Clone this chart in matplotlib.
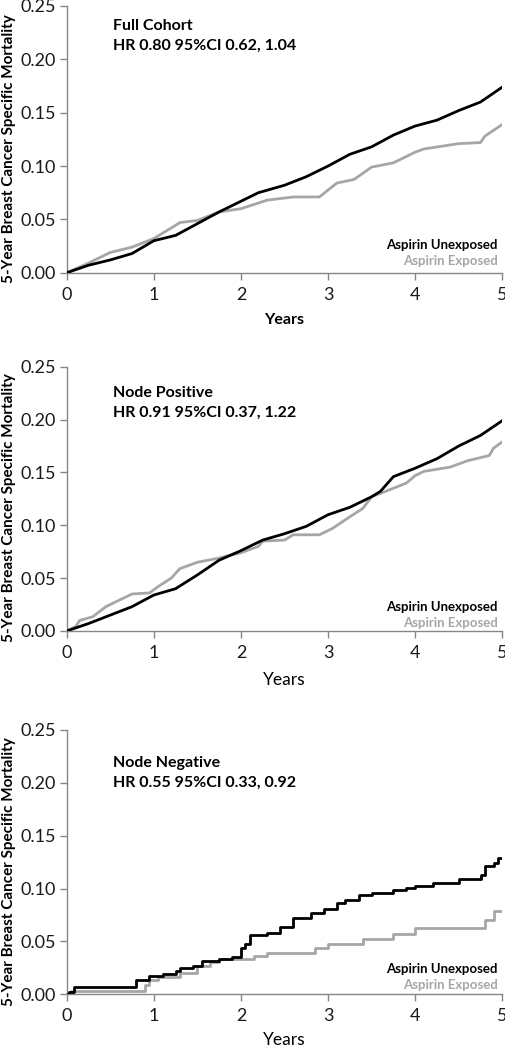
import matplotlib
matplotlib.use("Agg")
import matplotlib.pyplot as plt

plt.rcParams['font.family'] = ['Lato', 'DejaVu Sans']

# Full cohort
full_unexp_t = [0, 0.25, 0.5, 0.75, 1.0, 1.25, 1.5, 1.75, 2.0, 2.2, 2.5, 2.75, 3.0, 3.25, 3.5, 3.75, 4.0, 4.25, 4.5, 4.75, 5.0]
full_unexp_y = [0, 0.007, 0.012, 0.018, 0.030, 0.035, 0.046, 0.057, 0.067, 0.075, 0.082, 0.090, 0.100, 0.111, 0.118, 0.129, 0.1375, 0.143, 0.152, 0.160, 0.174]
full_exp_t = [0, 0.25, 0.5, 0.75, 1.0, 1.3, 1.5, 1.75, 2.0, 2.3, 2.6, 2.9, 3.1, 3.3, 3.5, 3.75, 4.0, 4.1, 4.5, 4.75, 4.8, 5.0]
full_exp_y = [0, 0.009, 0.019, 0.024, 0.032, 0.047, 0.049, 0.057, 0.060, 0.068, 0.071, 0.071, 0.084, 0.0875, 0.099, 0.103, 0.113, 0.116, 0.121, 0.122, 0.128, 0.139]

# Node positive
pos_unexp_t = [0, 0.25, 0.5, 0.75, 1.0, 1.25, 1.5, 1.75, 2.0, 2.25, 2.5, 2.75, 3.0, 3.25, 3.5, 3.6, 3.75, 4.0, 4.25, 4.5, 4.75, 5.0]
pos_unexp_y = [0, 0.007, 0.015, 0.023, 0.034, 0.040, 0.053, 0.067, 0.076, 0.086, 0.092, 0.099, 0.110, 0.117, 0.127, 0.132, 0.146, 0.154, 0.163, 0.175, 0.185, 0.199]
pos_exp_t = [0, 0.1, 0.15, 0.3, 0.45, 0.6, 0.75, 0.95, 1.05, 1.2, 1.3, 1.5, 1.75, 2.0, 2.2, 2.25, 2.5, 2.6, 2.9, 3.05, 3.25, 3.4, 3.5, 3.75, 3.9, 4.0, 4.1, 4.4, 4.6, 4.85, 4.9, 5.0]
pos_exp_y = [0, 0.004, 0.010, 0.0135, 0.023, 0.029, 0.035, 0.036, 0.042, 0.050, 0.059, 0.065, 0.069, 0.074, 0.080, 0.085, 0.086, 0.091, 0.091, 0.097, 0.108, 0.116, 0.127, 0.135, 0.140, 0.147, 0.151, 0.155, 0.161, 0.166, 0.173, 0.179]

# Node negative
neg_unexp_t = [0, 0.03, 0.08, 0.73, 0.8, 0.95, 1.1, 1.25, 1.3, 1.45, 1.55, 1.75, 1.9, 2.0, 2.05, 2.1, 2.3, 2.45, 2.6, 2.8, 2.95, 3.1, 3.2, 3.35, 3.5, 3.75, 3.9, 4.0, 4.2, 4.5, 4.75, 4.8, 4.9, 4.95, 5.0]
neg_unexp_y = [0, 0.0025, 0.007, 0.007, 0.014, 0.017, 0.019, 0.022, 0.025, 0.027, 0.032, 0.033, 0.0355, 0.044, 0.048, 0.056, 0.058, 0.064, 0.0725, 0.0765, 0.081, 0.086, 0.089, 0.094, 0.096, 0.0985, 0.101, 0.1025, 0.1055, 0.109, 0.113, 0.121, 0.124, 0.1285, 0.1285]
neg_exp_t = [0, 0.03, 0.05, 0.85, 0.9, 0.95, 1.05, 1.3, 1.5, 1.65, 1.75, 2.15, 2.3, 2.85, 3.0, 3.4, 3.75, 4.0, 4.8, 4.9, 5.0]
neg_exp_y = [0, 0.0025, 0.003, 0.003, 0.009, 0.0135, 0.0165, 0.020, 0.027, 0.031, 0.033, 0.0365, 0.039, 0.0435, 0.0475, 0.0525, 0.0575, 0.063, 0.070, 0.079, 0.079]

titles = ["Full Cohort", "Node Positive", "Node Negative"]
hr_texts = ["HR 0.80 95%CI 0.62, 1.04", "HR 0.91 95%CI 0.37, 1.22", "HR 0.55 95%CI 0.33, 0.92"]
y_ticks = [0.00, 0.05, 0.10, 0.15, 0.20, 0.25]
x_ticks = [0, 1, 2, 3, 4, 5]

BLACK = "#000000"
GRAY = "#a6a6a6"
AXIS = "#868686"

fig = plt.figure(figsize=(5.06, 10.49), dpi=100)

# axes boxes in figure fractions (left, bottom, width, height)
boxes = [
    (0.1318, 0.7400, 0.8609, 0.2543),
    (0.1318, 0.3985, 0.8609, 0.2519),
    (0.1318, 0.0521, 0.8609, 0.2520),
]
title_y = [(0.231, 0.2125), (0.225, 0.206), (0.219, 0.200)]
legend_y = [(0.026, 0.011), (0.023, 0.008), (0.0236, 0.0085)]
# the first two panels have many tiny steps, drawn as a line; the last one shows clear steps
draw_style = ['default', 'default', 'steps-post']

series = [
    (full_unexp_t, full_unexp_y, full_exp_t, full_exp_y),
    (pos_unexp_t, pos_unexp_y, pos_exp_t, pos_exp_y),
    (neg_unexp_t, neg_unexp_y, neg_exp_t, neg_exp_y),
]


def draw_panel(ax, i):
    ut, uy, et, ey = series[i]
    ax.plot(et, ey, drawstyle=draw_style[i], color=GRAY, lw=2.0, zorder=2)
    ax.plot(ut, uy, drawstyle=draw_style[i], color=BLACK, lw=2.0, zorder=3)

    ax.set_xlim(0, 5)
    ax.set_ylim(0, 0.25)
    ax.set_xticks(x_ticks)
    ax.set_yticks(y_ticks)
    ax.set_yticklabels([f"{v:.2f}" for v in y_ticks])
    ax.tick_params(axis='both', colors=AXIS, labelcolor="#1a1a1a", labelsize=13,
                   length=5, width=1)
    ax.tick_params(axis='x', pad=5)
    ax.tick_params(axis='y', pad=3)
    for side in ['top', 'right']:
        ax.spines[side].set_visible(False)
    for side in ['left', 'bottom']:
        ax.spines[side].set_color(AXIS)
        ax.spines[side].set_linewidth(1)

    ax.text(0.535, title_y[i][0], titles[i], fontsize=11.5, fontweight='bold', va='center')
    ax.text(0.535, title_y[i][1], hr_texts[i], fontsize=11.5, fontweight='bold', va='center')

    ax.text(4.95, legend_y[i][0], "Aspirin Unexposed", color=BLACK, fontsize=9.5,
            fontweight='bold', ha='right', va='center')
    ax.text(4.95, legend_y[i][1], "Aspirin Exposed", color=GRAY, fontsize=9.5,
            fontweight='bold', ha='right', va='center')

    ax.text(-0.1325, 0.465, "5-Year Breast Cancer Specific Mortality", transform=ax.transAxes,
            rotation=90, fontsize=11, fontweight='bold', ha='center', va='center')


for i, box in enumerate(boxes):
    ax = fig.add_axes(box)
    draw_panel(ax, i)

# x labels placed in pixel rows of the figure
xc = (66.7 + 502.3) / 2 / 506
fig.text(xc, 1 - 320 / 1049, "Years", fontsize=11.5, fontweight='bold', ha='center', va='center')
fig.text(xc, 1 - 680 / 1049, "Years", fontsize=12.5, ha='center', va='center')
fig.text(xc, 1 - 1040 / 1049, "Years", fontsize=12.5, ha='center', va='center')

fig.savefig("out.png", dpi=100)
